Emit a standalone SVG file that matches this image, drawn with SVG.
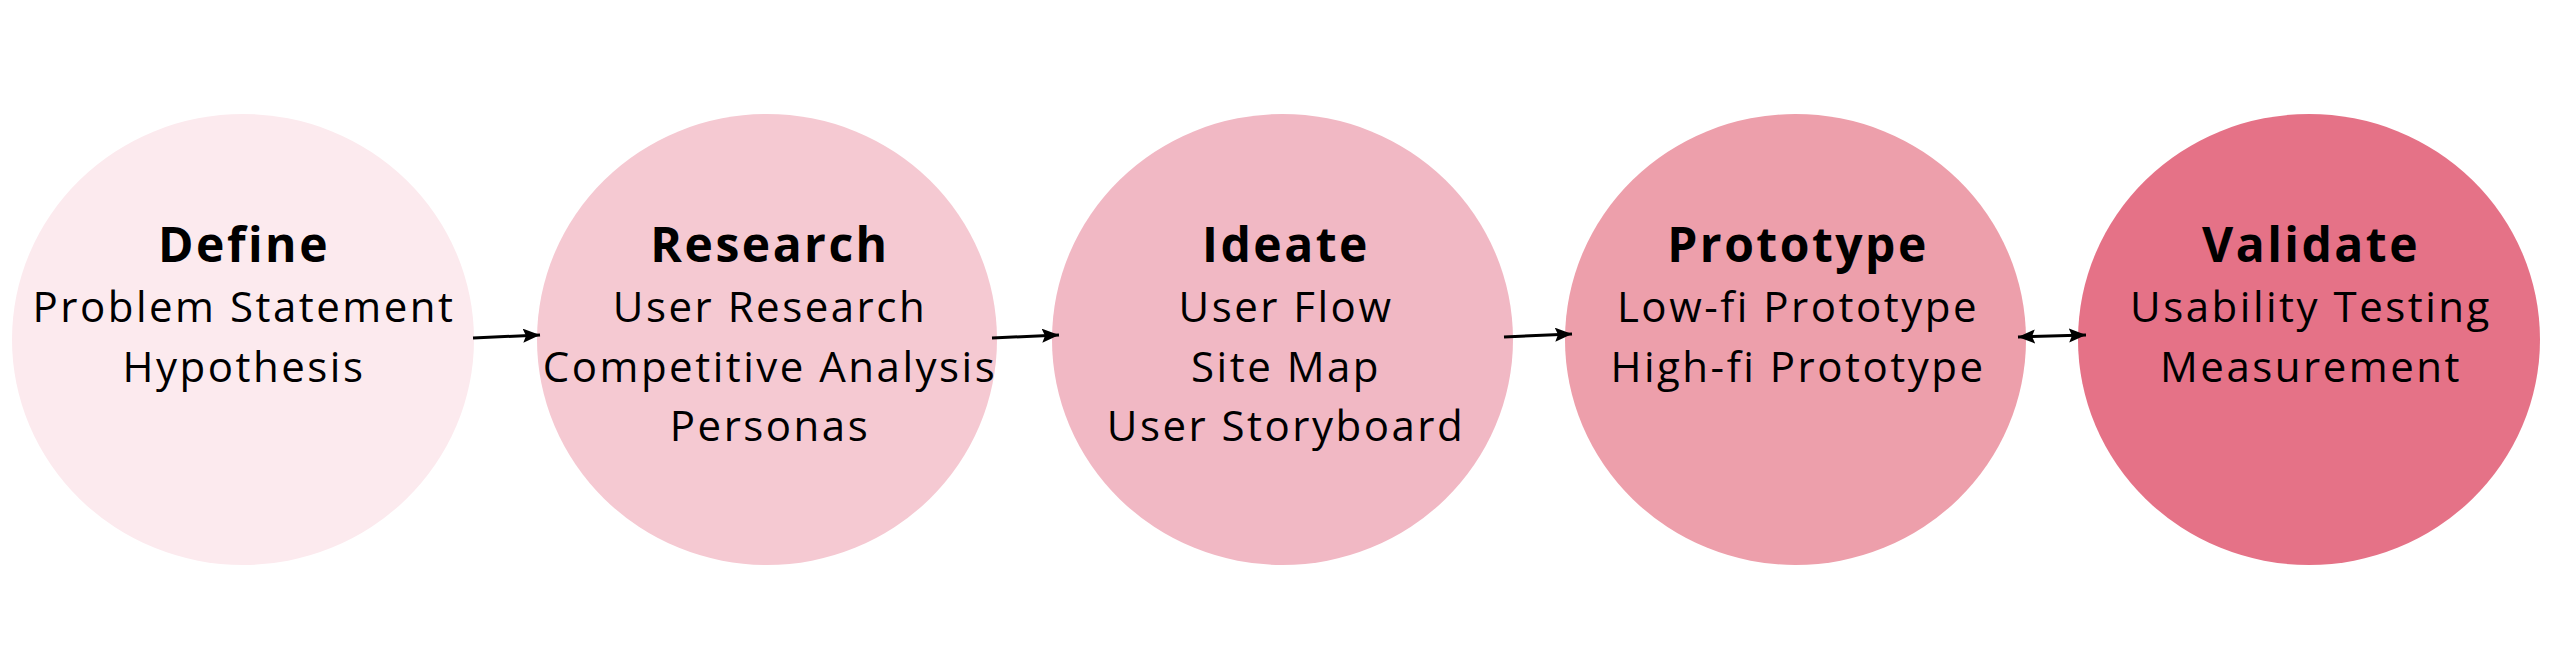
<svg xmlns="http://www.w3.org/2000/svg" width="2558" height="650" viewBox="0 0 2558 650">
<style>
.title{font-family:"Open Sans","Liberation Sans",sans-serif;font-weight:700;font-size:48px;letter-spacing:2.5px;fill:#000;text-anchor:middle}
.body{font-family:"Open Sans","Liberation Sans",sans-serif;font-weight:400;font-size:42px;letter-spacing:2.5px;fill:#000;text-anchor:middle}
.conn{stroke:#000;stroke-width:3;fill:none}
</style>
<defs>
<marker id="ah" markerUnits="userSpaceOnUse" markerWidth="20" markerHeight="16" refX="17" refY="7" orient="auto">
<path d="M0,0 L17,7 L0,14 L3,7 z" fill="#000"/>
</marker>
<marker id="ahs" markerUnits="userSpaceOnUse" markerWidth="20" markerHeight="16" refX="17" refY="7" orient="auto-start-reverse">
<path d="M0,0 L17,7 L0,14 L3,7 z" fill="#000"/>
</marker>
</defs>
<rect width="2558" height="650" fill="#fff"/>
<g id="define">
<ellipse cx="243" cy="339.5" rx="231" ry="225.5" fill="#FCEAEE"/>
<text class="title" x="244" y="262">Define</text>
<text class="body" x="244" y="322">Problem Statement</text>
<text class="body" x="244" y="382">Hypothesis</text>
</g>
<g id="research">
<ellipse cx="767" cy="339.5" rx="230" ry="225.5" fill="#F5C9D2"/>
<text class="title" x="770" y="262">Research</text>
<text class="body" x="770" y="322">User Research</text>
<text class="body" x="770" y="382">Competitive Analysis</text>
<text class="body" x="770" y="441">Personas</text>
</g>
<g id="ideate">
<ellipse cx="1282.5" cy="339.5" rx="230.5" ry="225.5" fill="#F1B8C4"/>
<text class="title" x="1286" y="262">Ideate</text>
<text class="body" x="1286" y="322">User Flow</text>
<text class="body" x="1286" y="382">Site Map</text>
<text class="body" x="1286" y="441">User Storyboard</text>
</g>
<g id="prototype">
<ellipse cx="1795.5" cy="339.5" rx="230.5" ry="225.5" fill="#ED9FAB"/>
<text class="title" x="1798" y="262">Prototype</text>
<text class="body" x="1798" y="322">Low-fi Prototype</text>
<text class="body" x="1798" y="382">High-fi Prototype</text>
</g>
<g id="validate">
<ellipse cx="2309" cy="339.5" rx="231" ry="225.5" fill="#E57287"/>
<text class="title" x="2311" y="262">Validate</text>
<text class="body" x="2311" y="322">Usability Testing</text>
<text class="body" x="2311" y="382">Measurement</text>
</g>
<g id="connectors">
<line class="conn" x1="473" y1="338" x2="540" y2="335" marker-end="url(#ah)"/>
<line class="conn" x1="992" y1="338" x2="1059" y2="335" marker-end="url(#ah)"/>
<line class="conn" x1="1504" y1="337" x2="1572" y2="334" marker-end="url(#ah)"/>
<line class="conn" x1="2018" y1="337" x2="2086" y2="335" marker-start="url(#ahs)" marker-end="url(#ahs)"/>
</g>
</svg>
